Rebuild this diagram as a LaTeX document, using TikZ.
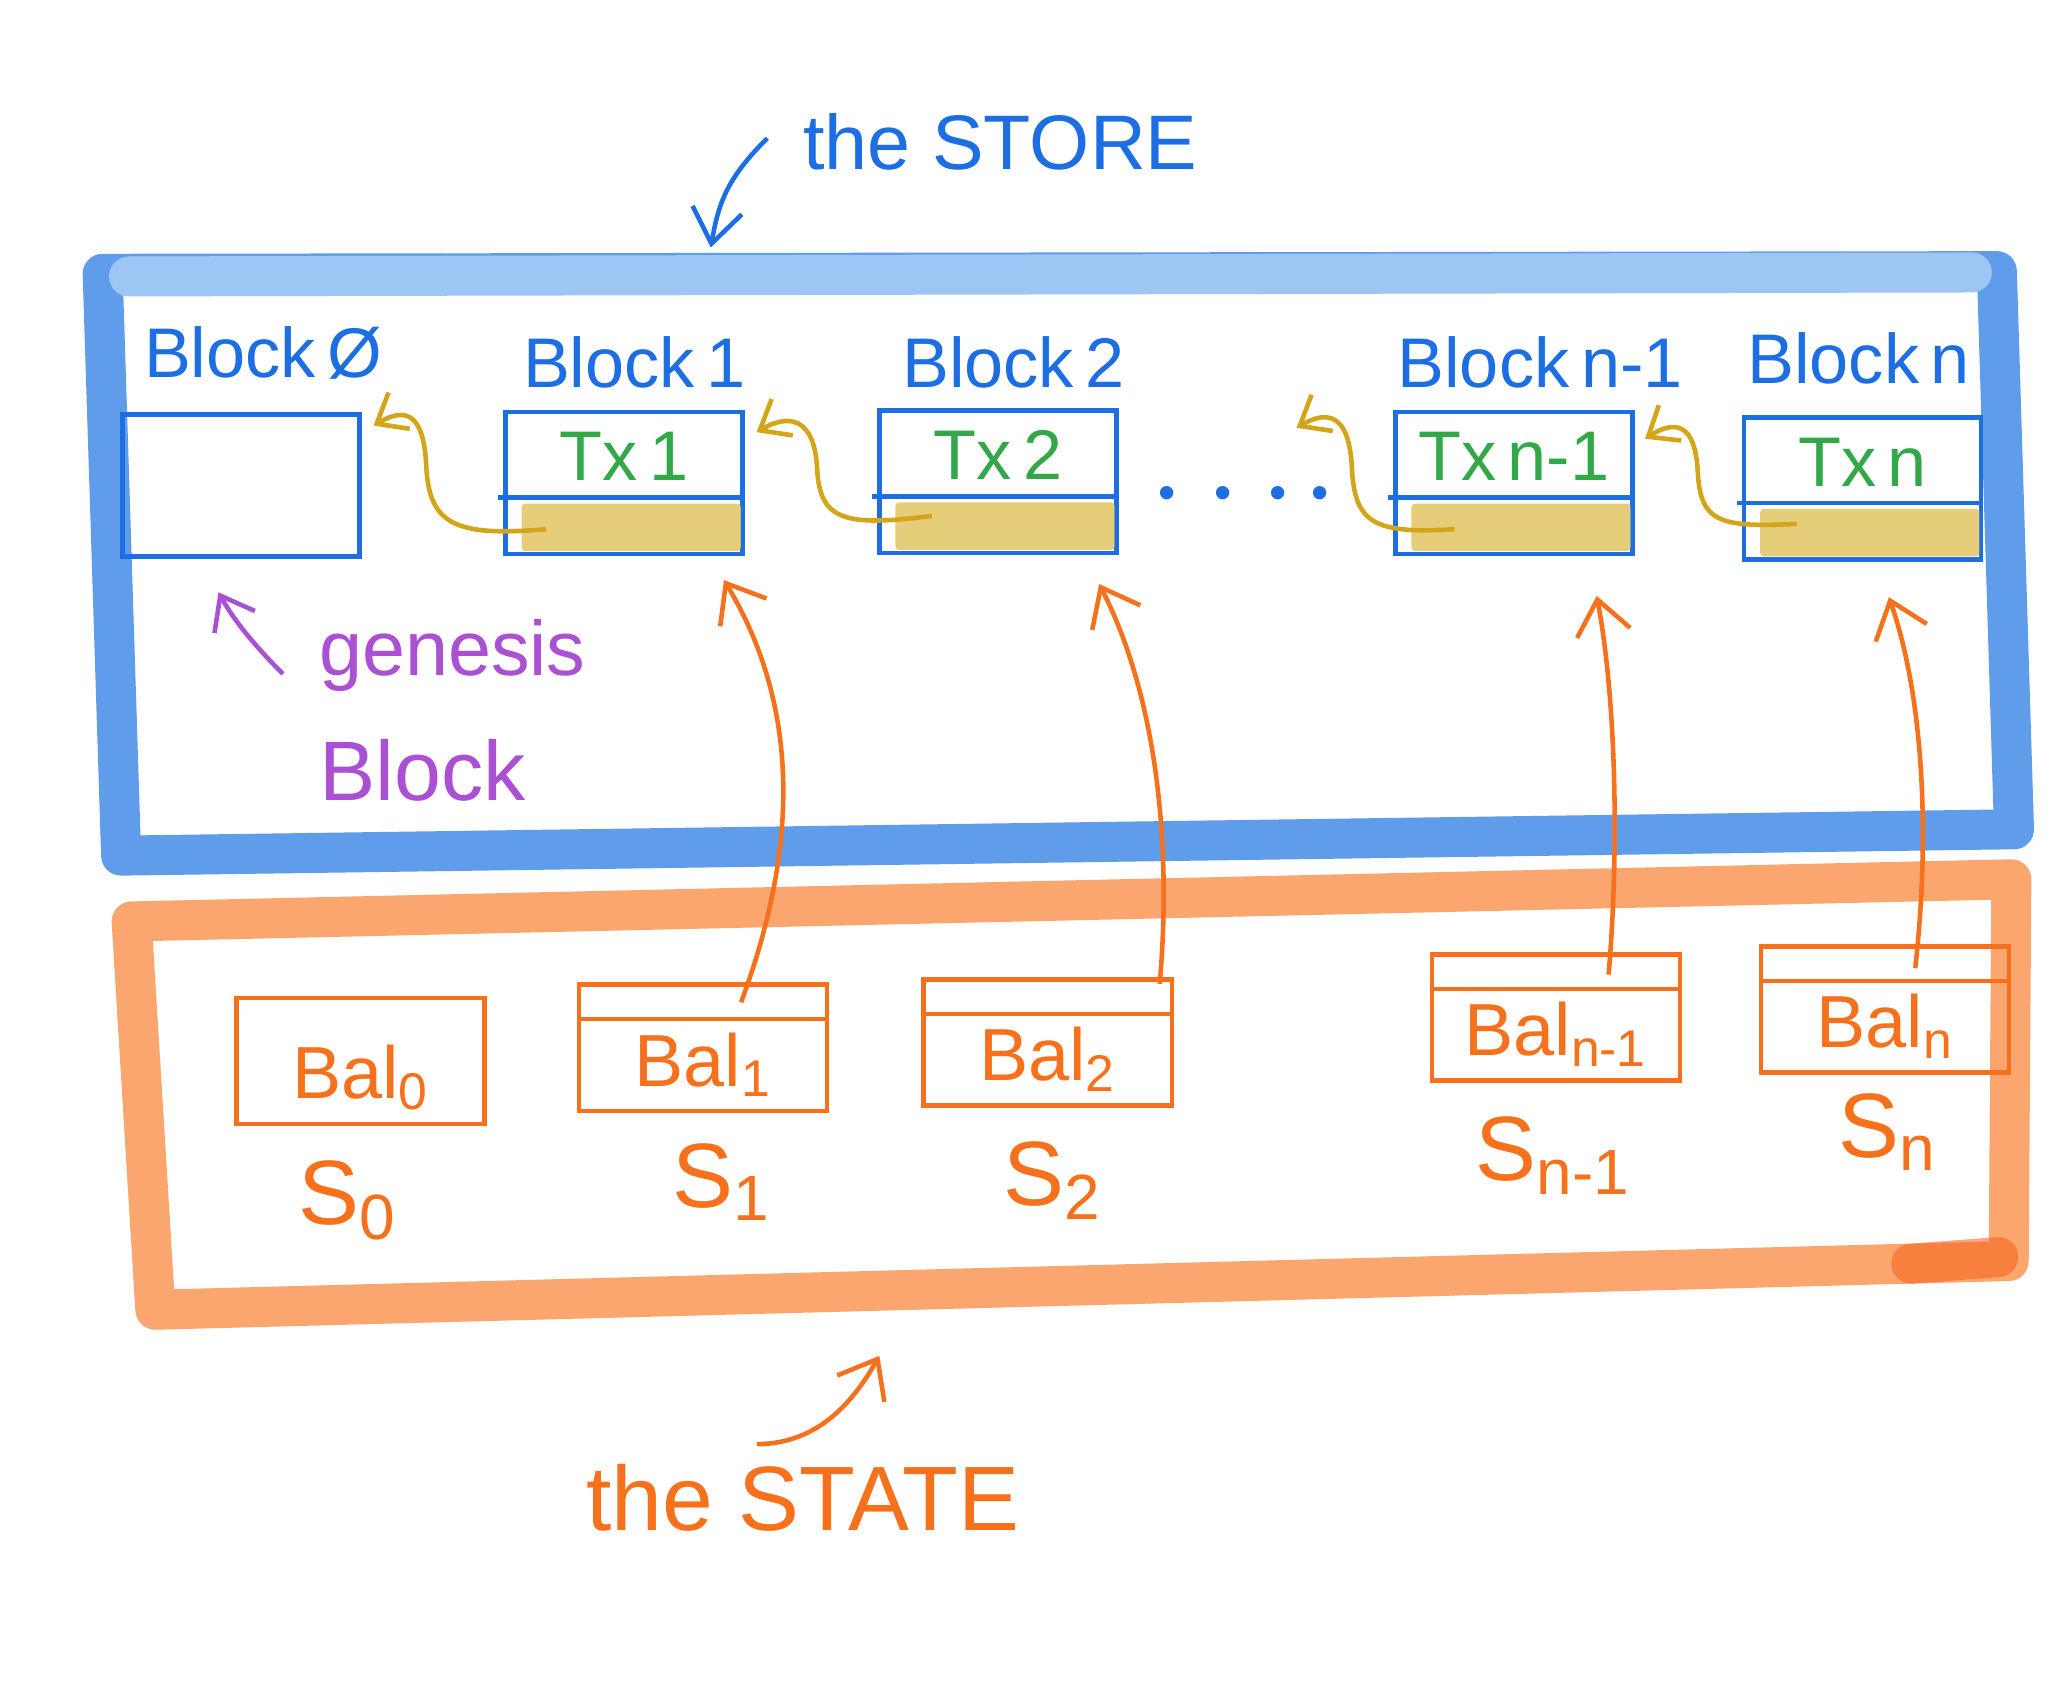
\documentclass[tikz,border=0pt]{standalone}
\usepackage{fontspec}
\setmainfont{Liberation Sans}
\usepackage{tikz}
\usetikzlibrary{arrows.meta,positioning,calc}
\definecolor{storeblue}{RGB}{28,110,226}
\definecolor{bandblue}{RGB}{78,145,232}
\definecolor{bandlight}{RGB}{158,198,244}
\definecolor{txgreen}{RGB}{50,168,72}
\definecolor{goldline}{RGB}{212,165,25}
\definecolor{goldfill}{RGB}{226,196,98}
\definecolor{stateorange}{RGB}{247,113,28}
\definecolor{bandorange}{RGB}{251,155,95}
\definecolor{genpurple}{RGB}{170,80,210}

\begin{document}
\begin{tikzpicture}[x=0.1316mm, y=-0.1316mm,
    blockbox/.style={draw=storeblue, line width=1.3pt, minimum width=23.7mm,
                     minimum height=14.2mm, inner sep=0pt},
    balbox/.style={draw=stateorange, line width=1.3pt, minimum width=24.8mm,
                   minimum height=12.6mm, inner sep=0pt},
    blocklbl/.style={text=storeblue, font=\fontsize{20}{24}\selectfont},
    txlbl/.style={text=txgreen, font=\fontsize{20}{24}\selectfont},
    ballbl/.style={text=stateorange, font=\fontsize{21}{25}\selectfont},
    slbl/.style={text=stateorange, font=\fontsize{26}{30}\selectfont},
    genlbl/.style={text=genpurple, font=\fontsize{22}{26}\selectfont},
    sep/.style={line width=1.3pt},
    band/.style={line width=4mm, line join=round, line cap=round},
    payload/.style={fill=goldfill, opacity=0.85, rounded corners=1pt},
    goldarr/.style={-{Straight Barb[length=2.6mm,width=4.2mm]}, line width=1.3pt, draw=goldline},
    statearr/.style={-{Straight Barb[length=3.4mm,width=5.4mm]}, line width=1.3pt, draw=stateorange},
    bluearr/.style={-{Straight Barb[length=3.4mm,width=5mm]}, line width=1.3pt, draw=storeblue},
    genarr/.style={-{Straight Barb[length=3mm,width=4.6mm]}, line width=1.3pt, draw=genpurple}
]
\useasboundingbox (0,0) rectangle (1568,1285);

\draw[band, draw=bandblue, opacity=0.9] (78,208) -- (1517,206) -- (1530,630) -- (92,650) -- cycle;
\draw[band, draw=bandlight] (98,210) -- (1498,207);
\draw[band, draw=bandorange, opacity=0.9] (100,700) -- (1528,668) -- (1526,958) -- (118,995) -- cycle;
\draw[band, draw=stateorange!85!red, opacity=0.55] (1452,960) -- (1518,955);

\node[blockbox] (b0) at (183,369) {};
\node[blockbox] (b1) at (474,367) {};
\node[blockbox] (b2) at (758,366) {};
\node[blockbox] (bn1) at (1150,367) {};
\node[blockbox] (bn) at (1415,371) {};
\foreach \b in {b1,b2,bn1,bn}{
  \fill[payload] ($(\b.north west)!0.64!(\b.south west)+(14,0)$) rectangle ($(\b.south east)+(-3,-4)$);
  \draw[sep, draw=storeblue] ($(\b.north west)!0.6!(\b.south west)+(-4,0)$) -- ($(\b.north east)!0.6!(\b.south east)$);
}
\foreach \b/\t in {b1/Tx\,1, b2/Tx\,2, bn1/Tx\,n-1, bn/Tx\,n}
  \node[txlbl] (tx-\b) at ($(\b.north)!0.32!(\b.south)$) {\t};

\node[blocklbl] (l0) at (200,268) {Block\,Ø};
\node[blocklbl] (l1) at (482,275) {Block\,1};
\node[blocklbl] (l2) at (770,275) {Block\,2};
\node[blocklbl] (ln1) at (1170,275) {Block\,n-1};
\node[blocklbl] (ln) at (1412,272) {Block\,n};

\node[text=storeblue, font=\fontsize{14}{16}\selectfont] (dots) at (945,378)
    {\textbullet\enspace\ \textbullet\enspace\ \textbullet\enspace\textbullet};
\coordinate (dotstip) at (985,325);

\draw[goldarr] ($(b1.center)+(-59,35)$) .. controls +(-70,6) and +(2,45) .. ($(b0.north east)+(49,40)$)
    .. controls +(-2,-40) and +(24,-14) .. ($(b0.north east)+(9,10)$);
\draw[goldarr] ($(b2.center)+(-50,26)$) .. controls +(-65,8) and +(2,40) .. ($(b1.north east)+(55,45)$)
    .. controls +(-2,-40) and +(24,-14) .. ($(b1.north east)+(9,17)$);
\draw[goldarr] ($(bn1.center)+(-45,35)$) .. controls +(-62,4) and +(2,42) .. (1027,355)
    .. controls +(-2,-40) and +(24,-14) .. (dotstip);
\draw[goldarr] ($(bn.center)+(-50,27)$) .. controls +(-60,3) and +(2,38) .. ($(bn1.north east)+(48,47)$)
    .. controls +(-2,-38) and +(22,-14) .. ($(bn1.north east)+(8,22)$);

\node[genlbl, anchor=west] (gen) at (233,498) {genesis};
\node[genlbl, anchor=west, font=\fontsize{24}{28}\selectfont] (genblk) at (233,585) {Block};
\coordinate (gentip) at (166,450);
\draw[genarr] ($(gen.west)+(-18,14)$) .. controls +(-20,-20) and +(12,22) .. (gentip);

\node[balbox] (s0) at (274,806) {};
\node[balbox] (s1) at (534,796) {};
\node[balbox] (s2) at (796,792) {};
\node[balbox] (sn1) at (1182,773) {};
\node[balbox] (sn) at (1432,767) {};
\foreach \s in {s1,s2,sn1,sn}
  \draw[sep, draw=stateorange] ($(\s.north west)!0.28!(\s.south west)$) -- ($(\s.north east)!0.28!(\s.south east)$);
\foreach \s/\t in {s0/0, s1/1, s2/2, sn1/n-1, sn/n}
  \node[ballbl] (bal-\s) at ($(\s.north)!0.63!(\s.south)$) {Bal\textsubscript{\t}};

\node[slbl] (st0) at (264,912) {S\textsubscript{0}};
\node[slbl] (st1) at (548,898) {S\textsubscript{1}};
\node[slbl] (st2) at (800,897) {S\textsubscript{2}};
\node[slbl] (stn1) at (1180,878) {S\textsubscript{n-1}};
\node[slbl] (stn) at (1434,860) {S\textsubscript{n}};

\draw[statearr] ($(s1.north)+(29,15)$) .. controls +(42,-113) and +(60,100) .. ($(b1.south)+(76,18)$);
\draw[statearr] ($(s2.north)+(85,5)$) .. controls +(9,-101) and +(45,88) .. ($(b2.south)+(77,22)$);
\draw[statearr] ($(sn1.north)+(40,17)$) .. controls +(8,-92) and +(15,80) .. ($(bn1.south)+(63,30)$);
\draw[statearr] ($(sn.north)+(23,18)$) .. controls +(11,-98) and +(27,78) .. ($(bn.south)+(20,27)$);

\node[text=storeblue, font=\fontsize{22}{26}\selectfont] (storelbl) at (760,108) {the STORE};
\coordinate (storetip) at (540,188);
\draw[bluearr] ($(storelbl.west)+(-18,-3)$) .. controls +(-30,30) and +(6,-35) .. (storetip);

\node[text=stateorange, font=\fontsize{26}{30}\selectfont] (statelbl) at (610,1138) {the STATE};
\coordinate (statetip) at (668,1030);
\draw[statearr] ($(statelbl.north)+(-35,-6)$) .. controls +(48,0) and +(-18,32) .. (statetip);
\end{tikzpicture}
\end{document}
